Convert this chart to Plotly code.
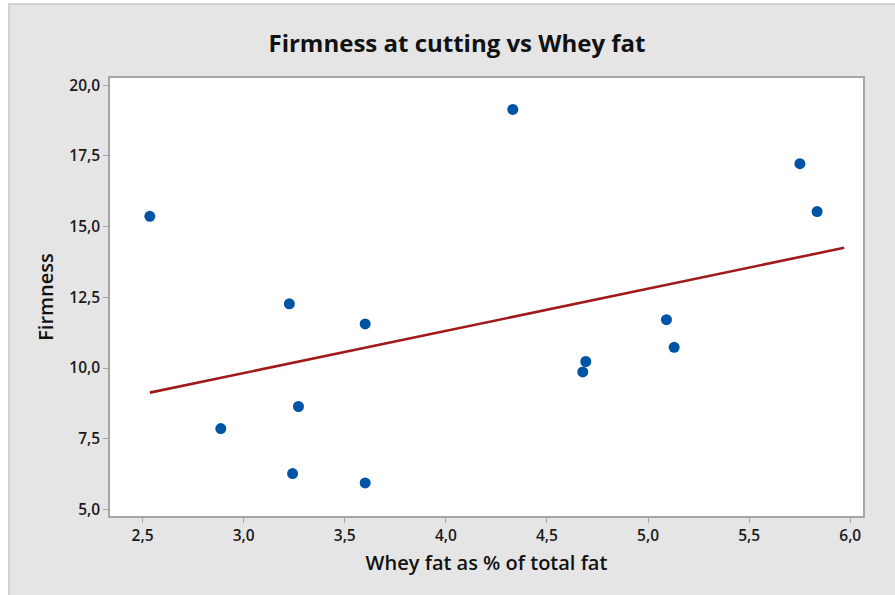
import plotly.graph_objects as go

# Whey fat (% of total fat) and firmness at cutting
whey_fat = [2.536, 2.887, 3.226, 3.242, 3.271, 3.601, 3.601, 4.331,
            4.677, 4.692, 5.091, 5.129, 5.751, 5.836]
firmness = [15.36, 7.86, 12.27, 6.27, 8.64, 11.56, 5.94, 19.14,
            9.86, 10.23, 11.71, 10.73, 17.22, 15.53]

# Fitted regression line end points
fit_x = [2.536, 5.97]
fit_y = [9.13, 14.25]

x_ticks = [2.5, 3.0, 3.5, 4.0, 4.5, 5.0, 5.5, 6.0]
y_ticks = [5.0, 7.5, 10.0, 12.5, 15.0, 17.5, 20.0]

W, H = 895, 595
ML, MR, MT, MB = 110, 32, 78, 79
pw, ph = W - ML - MR, H - MT - MB

fig = go.Figure()
fig.add_trace(go.Scatter(
    x=fit_x, y=fit_y, mode="lines",
    line=dict(color="#A11A1A", width=2.6), hoverinfo="skip", showlegend=False))
fig.add_trace(go.Scatter(
    x=whey_fat, y=firmness, mode="markers",
    marker=dict(color="#0054A6", size=11, line=dict(width=0)), showlegend=False))

# Grey backdrop panel with light border on left/top
fig.add_shape(type="rect", xref="paper", yref="paper", layer="below",
              x0=(9 - ML) / pw, x1=(W + 5 - ML) / pw,
              y0=-(H + 5 - MT - ph) / ph, y1=(H - MB - 4) / ph,
              fillcolor="#E5E5E5", line=dict(color="#C8C8C8", width=1.5))
fig.add_shape(type="rect", xref="x domain", yref="y domain", layer="below",
              x0=0, x1=1, y0=0, y1=1, fillcolor="white", line=dict(width=0))

font_family = "Open Sans, Noto Sans, sans-serif"
axis_common = dict(
    showgrid=False, zeroline=False, showline=True, mirror=True,
    linecolor="#A6A6A6", linewidth=1.5,
    ticks="outside", ticklen=5, tickwidth=1.2, tickcolor="#A6A6A6",
    tickformat=".1f",
    tickfont=dict(family=font_family, size=15.5, color="#1A1A1A", weight=600),
)

fig.update_layout(
    width=W, height=H,
    margin=dict(l=ML, r=MR, t=MT, b=MB),
    paper_bgcolor="white", plot_bgcolor="white",
    separators=", ",
    title=dict(text="Firmness at cutting vs Whey fat",
               x=457 / W, xanchor="center", xref="container",
               y=1 - 44 / H, yanchor="middle", yref="container",
               font=dict(family=font_family, size=24, color="#111111", weight=700)),
    xaxis=dict(range=[2.339, 6.063], tickvals=x_ticks,
               title=dict(text="Whey fat as % of total fat", standoff=11,
                          font=dict(family=font_family, size=20, color="#111111", weight=600)),
               **axis_common),
    yaxis=dict(range=[4.77, 20.25], tickvals=y_ticks,
               title=dict(text="Firmness", standoff=10,
                          font=dict(family=font_family, size=20, color="#111111", weight=600)),
               **axis_common),
)

fig.write_html("out.html")
